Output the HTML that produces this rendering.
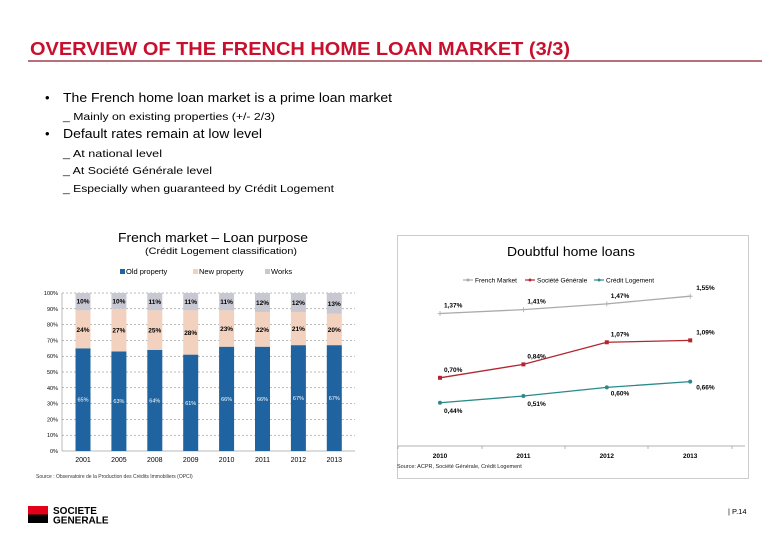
<!DOCTYPE html>
<html><head><meta charset="utf-8"><style>
html,body{margin:0;padding:0;background:#fff;}
svg{display:block;font-family:"Liberation Sans",Arial,sans-serif;}
</style></head><body>
<svg id="s" width="780" height="540" viewBox="0 0 780 540" xmlns="http://www.w3.org/2000/svg">
<text x="30" y="55" font-size="18" font-weight="bold" fill="#c8102e" textLength="540" lengthAdjust="spacingAndGlyphs">OVERVIEW OF THE FRENCH HOME LOAN MARKET (3/3)</text>
<line x1="28" y1="61" x2="762" y2="61" stroke="#8b1a2b" stroke-width="1.2"/>
<g font-size="13" fill="#000">
<text x="45" y="102">•</text><text x="63" y="102" textLength="329" lengthAdjust="spacingAndGlyphs">The French home loan market is a prime loan market</text>
<text x="63" y="120" font-size="10.5" textLength="212" lengthAdjust="spacingAndGlyphs">_ Mainly on existing properties (+/- 2/3)</text>
<text x="45" y="138">•</text><text x="63" y="138" textLength="199" lengthAdjust="spacingAndGlyphs">Default rates remain at low level</text>
<text x="63" y="157" font-size="10.5" textLength="99" lengthAdjust="spacingAndGlyphs">_ At national level</text>
<text x="63" y="174" font-size="10.5" textLength="149" lengthAdjust="spacingAndGlyphs">_ At Société Générale level</text>
<text x="63" y="192" font-size="10.5" textLength="271" lengthAdjust="spacingAndGlyphs">_ Especially when guaranteed by Crédit Logement</text>
</g>
<text x="118" y="242" font-size="12.5" textLength="190" lengthAdjust="spacingAndGlyphs">French market – Loan purpose</text>
<text x="145" y="254" font-size="9" textLength="152" lengthAdjust="spacingAndGlyphs">(Crédit Logement classification)</text>
<g id="left"></g>
<text x="36" y="478" font-size="5" fill="#333">Source : Observatoire de la Production des Crédits Immobiliers (OPCI)</text>
<rect x="397.5" y="235.5" width="351" height="243" fill="none" stroke="#ccc"/>
<text x="507" y="256" font-size="13" textLength="128" lengthAdjust="spacingAndGlyphs">Doubtful home loans</text>
<g id="right"></g>
<text x="397" y="468" font-size="5.5" fill="#222">Source: ACPR, Société Générale, Crédit Logement</text>
<g>
<rect x="28" y="506" width="20" height="8.5" fill="#e2001a"/>
<rect x="28" y="514.5" width="20" height="8.5" fill="#000"/>
<text x="53" y="514" font-size="10" font-weight="bold">SOCIETE</text>
<text x="53" y="523.5" font-size="10" font-weight="bold">GENERALE</text>
</g>
<text x="728" y="514" font-size="7.5">| P.14</text>
</svg>
<script>
const years=["2001","2005","2008","2009","2010","2011","2012","2013"];
const oldP=[65,63,64,61,66,66,67,67];
const newP=[24,27,25,28,23,22,21,20];
const works=[10,10,11,11,11,12,12,13];
const yTicks=[0,10,20,30,40,50,60,70,80,90,100];
const dYears=["2010","2011","2012","2013"];
const french=[1.37,1.41,1.47,1.55];
const sg=[0.70,0.84,1.07,1.09];
const cl=[0.44,0.51,0.60,0.66];
const NS="http://www.w3.org/2000/svg";
function mk(p,t,a,txt){const e=document.createElementNS(NS,t);for(const k in a)e.setAttribute(k,a[k]);if(txt!==undefined)e.textContent=txt;p.appendChild(e);return e;}
// left chart
const L=document.getElementById('left');
const ly=v=>451-v*1.58, lx=i=>83+i*35.9;
yTicks.forEach(t=>{const g=mk(L,'line',{x1:62,x2:355,y1:ly(t),y2:ly(t),stroke:'#777','stroke-width':0.5,'stroke-dasharray':t?'2,2':'none'});
const tx=mk(L,'text',{x:58,y:ly(t)+2,'font-size':5.5,'text-anchor':'end'},t+'%');});
mk(L,'line',{x1:62,x2:62,y1:ly(0),y2:ly(100),stroke:'#777','stroke-width':0.5});
years.forEach((y,i)=>{const x=lx(i)-7.5;const o=oldP[i],n=newP[i];
const r1=mk(L,'rect',{x:x,width:15,y:ly(o),height:ly(0)-ly(o),fill:'#1f64a0'});
const r2=mk(L,'rect',{x:x,width:15,y:ly(Math.min(100,o+n)),height:ly(o)-ly(Math.min(100,o+n)),fill:'#f2d2bf'});
const r3=mk(L,'rect',{x:x,width:15,y:ly(100),height:Math.max(0,ly(o+n)-ly(100)),fill:'#c8c8d2'});
mk(L,'text',{x:lx(i),y:ly(o/2)+2,'font-size':5.5,fill:'#fff','text-anchor':'middle'},o+'%');
mk(L,'text',{x:lx(i),y:ly(o+n/2)+2.5,'font-size':6.5,'font-weight':'bold','text-anchor':'middle'},n+'%');
mk(L,'text',{x:lx(i),y:ly(100-works[i]/2)+2.5,'font-size':6.5,'font-weight':'bold','text-anchor':'middle'},works[i]+'%');
const yl=mk(L,'text',{x:lx(i),y:462,'font-size':7,'text-anchor':'middle'},y);});
[['Old property','#1f64a0',120],['New property','#f2d2bf',193],['Works','#c8c8d2',265]].forEach(a=>{const g=mk(L,'g',{});mk(g,'rect',{x:a[2],y:269,width:5,height:5,fill:a[1]});mk(g,'text',{x:a[2]+6,y:274,'font-size':7.5},a[0]);});
// right chart
const R=document.getElementById('right');
const rx=i=>440+i*83.4, ry=v=>445-96*v;
mk(R,'line',{x1:398,x2:745,y1:446,y2:446,stroke:'#999','stroke-width':0.7});
[398,482,565,648,732].forEach(x=>mk(R,'line',{x1:x,x2:x,y1:446,y2:449,stroke:'#999','stroke-width':0.7}));
dYears.forEach((y,i)=>{const t=mk(R,'text',{x:rx(i),y:458,'font-size':6.5,'font-weight':'bold','text-anchor':'middle'},y);});
const series=[['french-market',french,'#aaa','+',[6,-8]],['societe-generale',sg,'#b22630','s',[0,-8]],['credit-logement',cl,'#2a8a8a','c',[0,8]]];
series.forEach(s=>{const g=mk(R,'g',{});
mk(g,'polyline',{points:s[1].map((v,i)=>rx(i)+','+ry(v)).join(' '),fill:'none',stroke:s[2],'stroke-width':1.3});
s[1].forEach((v,i)=>{const x=rx(i),y=ry(v);let m;
if(s[3]=='+')m=mk(g,'path',{d:`M${x-2.5},${y}h5M${x},${y-2.5}v5`,stroke:s[2],'stroke-width':0.8});
else if(s[3]=='s')m=mk(g,'rect',{x:x-2,y:y-2,width:4,height:4,fill:s[2]});
else m=mk(g,'circle',{cx:x,cy:y,r:2,fill:s[2]});

const dx=(i==3)?6:4;const dy=s[4][1]+(s[0]=='credit-logement'&&i>=2?-2:0);
const lb=mk(g,'text',{x:x+dx,y:y+dy+2,'font-size':6.5,'font-weight':'bold','text-anchor':'start'},v.toFixed(2).replace('.',',')+'%');});});
[['French Market','#aaa',473],['Société Générale','#b22630',535],['Crédit Logement','#2a8a8a',604]].forEach(a=>{const g=mk(R,'g',{});mk(g,'line',{x1:a[2]-10,x2:a[2],y1:280,y2:280,stroke:a[1],'stroke-width':1.2});mk(g,'circle',{cx:a[2]-5,cy:280,r:1.5,fill:a[1]});mk(g,'text',{x:a[2]+2,y:282.5,'font-size':6.5},a[0]);});
</script>
</body></html>
